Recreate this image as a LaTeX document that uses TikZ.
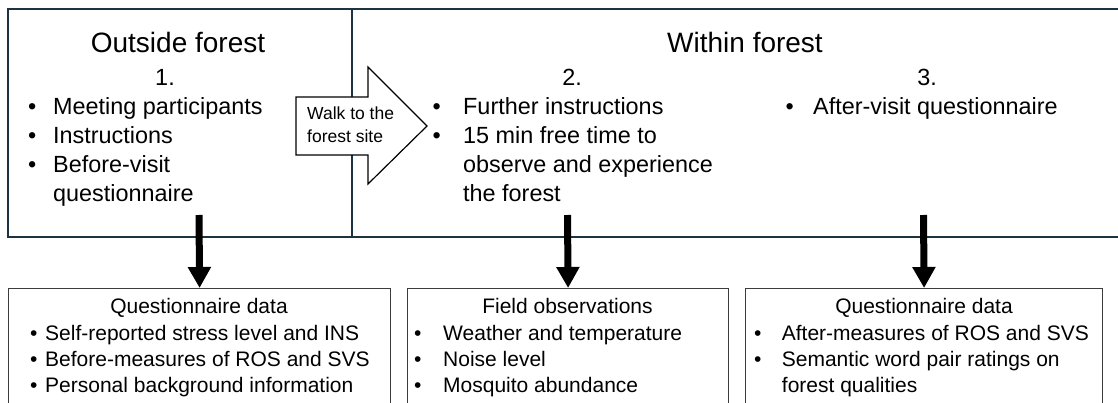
\documentclass[tikz,border=0pt]{standalone}
\usepackage{fontspec}
\setmainfont{Liberation Sans}
\usetikzlibrary{arrows.meta}
\definecolor{frame}{HTML}{1C3441}
\definecolor{boxline}{HTML}{3C3C3C}
\newcommand\fsz[2]{\fontsize{#1}{#2}\selectfont}
\begin{document}
\begin{tikzpicture}[x=1pt,y=-1pt,
  frameline/.style={draw=frame,line width=2pt},
  databox/.style={draw=boxline,line width=1.2pt,fill=white,rectangle,anchor=north west,inner sep=0pt},
  heading/.style={font=\fsz{28}{34},anchor=base,inner sep=0pt},
  num/.style={font=\fsz{23.4}{29},anchor=base,inner sep=0pt},
  toplist/.style={font=\fsz{23.4}{29},anchor=base west,inner sep=0pt,align=left},
  boxtitle/.style={font=\fsz{21}{26},anchor=base,inner sep=0pt},
  botlist/.style={font=\fsz{21}{26},anchor=base west,inner sep=0pt,align=left},
  walkarrow/.style={draw=black,line width=1.2pt,fill=white,line join=miter},
  walktext/.style={font=\fsz{17.5}{23},anchor=base west,inner sep=0pt,align=left},
  flow/.style={line width=7pt,-{Triangle[width=22pt,length=21pt]}}
]
\useasboundingbox (0,0) rectangle (1118,403);
\clip (0,0) rectangle (1118,403);
\fill[white] (0,0) rectangle (1118,403);

% stage frame
\draw[frameline] (1125,9) -- (8,9) -- (8,237) -- (1125,237);
\draw[frameline] (352,9) -- (352,237);

% headings
\node[heading] (hout) at (178,53) {Outside forest};
\node[heading] (hin) at (745,53) {Within forest};
\node[num] (n1) at (165,86) {1.};
\node[num] (n2) at (572,86) {2.};
\node[num] (n3) at (927,86) {3.};

% stage lists
\node[toplist] (l1) at (28,115) {\begin{tabular}[t]{@{}p{25pt}@{}l@{}}\textbullet & Meeting participants\\ \textbullet & Instructions\\ \textbullet & Before-visit\\ & questionnaire\end{tabular}};
\node[toplist] (l2) at (432.5,115) {\begin{tabular}[t]{@{}p{30.5pt}@{}l@{}}\textbullet & Further instructions\\ \textbullet & 15 min free time to\\ & observe and experience\\ & the forest\end{tabular}};
\node[toplist] (l3) at (785.5,115) {\begin{tabular}[t]{@{}p{27.5pt}@{}l@{}}\textbullet & After-visit questionnaire\end{tabular}};

% walk arrow
\draw[walkarrow] (296,97) -- (368,97) -- (368,67) -- (427,126) -- (368,184) -- (368,155) -- (296,155) -- cycle;
\node[walktext] (walk) at (307,120) {\begin{tabular}[t]{@{}l@{}}Walk to the\\forest site\end{tabular}};

% data boxes
\node[databox,minimum width=382pt,minimum height=140pt] (q1) at (8,288) {};
\node[databox,minimum width=321pt,minimum height=140pt] (q2) at (407,288) {};
\node[databox,minimum width=357pt,minimum height=140pt] (q3) at (745,288) {};

\node[boxtitle] (t1) at (199,313) {Questionnaire data};
\node[boxtitle] (t2) at (567.5,313) {Field observations};
\node[boxtitle] (t3) at (924,313) {Questionnaire data};

\node[botlist] (b1) at (30,340) {\begin{tabular}[t]{@{}p{15pt}@{}l@{}}\textbullet & Self-reported stress level and INS\\ \textbullet & Before-measures of ROS and SVS\\ \textbullet & Personal background information\end{tabular}};
\node[botlist] (b2) at (414,340) {\begin{tabular}[t]{@{}p{29pt}@{}l@{}}\textbullet & Weather and temperature\\ \textbullet & Noise level\\ \textbullet & Mosquito abundance\end{tabular}};
\node[botlist] (b3) at (754,340) {\begin{tabular}[t]{@{}p{27.7pt}@{}l@{}}\textbullet & After-measures of ROS and SVS\\ \textbullet & Semantic word pair ratings on\\ & forest qualities\end{tabular}};

% flows
\coordinate (s1) at (199,215);
\coordinate (s2) at (567.5,215);
\coordinate (s3) at (923.5,215);
\draw[flow] (s1) -- (q1.north);
\draw[flow] (s2) -- (q2.north);
\draw[flow] (s3) -- (q3.north);
\end{tikzpicture}
\end{document}
